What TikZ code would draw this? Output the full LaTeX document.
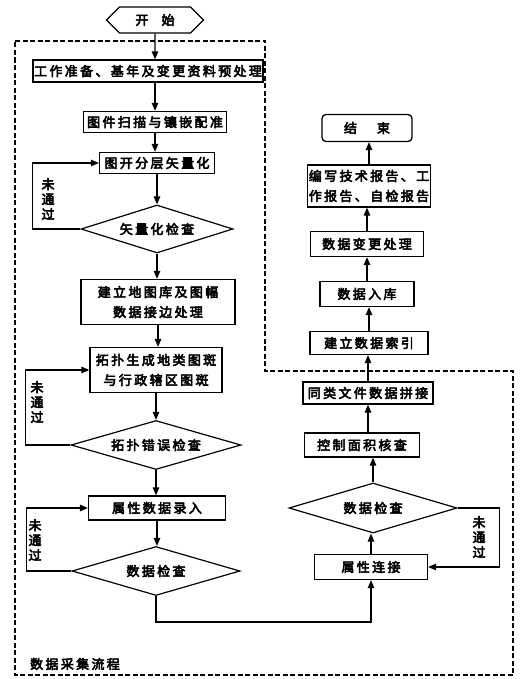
\documentclass[tikz,border=0pt]{standalone}
\usepackage{fontspec}
\newfontfamily\cjk{Noto Sans CJK SC}[FakeBold=4,LetterSpace=18]
\usetikzlibrary{arrows.meta,shapes.geometric,shapes.symbols}

\begin{document}
\begin{tikzpicture}[x=1pt,y=-1pt,font=\cjk\fontsize{13}{20}\selectfont,>={Triangle[length=8pt,width=6.5pt]},
 n/.style={draw,line width=1.3pt,align=center,inner sep=1pt,minimum height=24pt},
 d/.style={draw,diamond,line width=1.2pt,inner sep=0pt,aspect=3.4},
 e/.style={->,line width=1.3pt},
 v/.style={align=center,inner sep=0pt,font=\cjk\fontsize{13}{15}\selectfont},
 frame/.style={line width=1.1pt,dash pattern=on 5pt off 2.5pt}]
\useasboundingbox (0,0) rectangle (523,679);
% left column
\node[n,signal,signal to=west and east,minimum width=97pt,minimum height=26pt] (start) at (155,20) {开\hspace{13pt}始};
\node[n,minimum width=227pt,minimum height=22pt] (prep) at (148,71) {工作准备、基年及变更资料预处理};
\node[n,minimum width=143pt,minimum height=21pt] (scan) at (155,122) {图件扫描与镶嵌配准};
\node[n,minimum width=115pt,minimum height=21pt] (vec) at (157,163) {图开分层矢量化};
\node[d,minimum width=152pt,minimum height=48pt] (vchk) at (157,229) {矢量化检查};
\node[n,minimum width=154pt,minimum height=45pt] (lib) at (158,302) {建立地图库及图幅\\数据接边处理};
\node[n,minimum width=132pt,minimum height=45pt] (topo) at (156,370) {拓扑生成地类图斑\\与行政辖区图斑};
\node[d,minimum width=170pt,minimum height=49pt] (tchk) at (156,445) {拓扑错误检查};
\node[n,minimum width=137pt,minimum height=24pt] (attr) at (157,508) {属性数据录入};
\node[d,minimum width=168pt,minimum height=49pt] (dchk) at (156,571) {数据检查};
% right column
\node[n,minimum width=113pt,minimum height=25pt] (link) at (371,567) {属性连接};
\node[d,minimum width=168pt,minimum height=50pt] (dchk2) at (373,508) {数据检查};
\node[n,minimum width=115pt,minimum height=24pt] (area) at (362,445) {控制面积核查};
\node[n,minimum width=130pt,minimum height=22pt] (merge) at (368,393) {同类文件数据拼接};
\node[n,minimum width=118pt,minimum height=23pt] (index) at (369,343) {建立数据索引};
\node[n,minimum width=94pt,minimum height=25pt] (store) at (367,294) {数据入库};
\node[n,minimum width=113pt,minimum height=25pt] (chg) at (367,244) {数据变更处理};
\node[n,minimum width=122pt,minimum height=42pt] (rep) at (369,186) {编写技术报告、工\\作报告、自检报告};
\node[n,rounded corners=4pt,minimum width=90pt,minimum height=27pt] (end) at (367,128) {结\hspace{20pt}束};
% labels
\node[v] (nf1) at (48,199) {未\\通\\过};
\node[v] (nf2) at (37,402) {未\\通\\过};
\node[v] (nf3) at (35,540) {未\\通\\过};
\node[v] (nf4) at (479,537) {未\\通\\过};
\node (ttl) at (75,664) {数据采集流程};
% frame
\draw[frame] (15,41) -- (265,41) -- (265,371) -- (513,371) -- (513,675) -- (15,675) -- cycle;
% arrows
\draw[e] (start) -- (start |- prep.north);
\draw[e] (scan |- prep.south) -- (scan);
\draw[e] (scan) -- (scan |- vec.north);
\draw[e] (vec) -- (vec |- vchk.north);
\draw[e] (vchk) -- (vchk |- lib.north);
\draw[e] (lib) -- (lib |- topo.north);
\draw[e] (topo) -- (topo |- tchk.north);
\draw[e] (tchk) -- (tchk |- attr.north);
\draw[e] (attr) -- (attr |- dchk.north);
\draw[e] (vchk.west) -- ++(-48,0) |- (vec.west);
\draw[e] (tchk.west) -- ++(-45,0) |- (topo.west);
\draw[e] (dchk.west) -- ++(-45,0) |- (attr.west);
\draw[e] (dchk.south) -- ++(0,26) -| (link.south);
\draw[e] (link) -- (link |- dchk2.south);
\draw[e] (dchk2.east) -- ++(42,0) |- (link.east);
\draw[e] (dchk2) -- (dchk2 |- area.south);
\draw[e] (merge |- area.north) -- (merge.south);
\draw[e] (merge) -- (merge |- index.south);
\draw[e] (index) -- (index |- store.south);
\draw[e] (store) -- (store |- chg.south);
\draw[e] (chg) -- (chg |- rep.south);
\draw[e] (rep) -- (rep |- end.south);
\end{tikzpicture}
\end{document}
